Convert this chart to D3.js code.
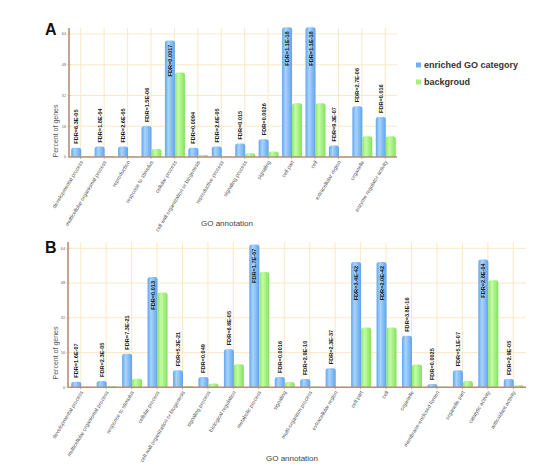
<!DOCTYPE html>
<html><head><meta charset="utf-8">
<script src="https://cdn.jsdelivr.net/npm/d3@7"></script>
<style>body{margin:0;background:#fff}svg{display:block}</style>
</head><body>
<svg id="c" width="554" height="471"></svg>
<script>
const catsA = ["developmental process","multicellular organismal process","reproduction","response to stimulus","cellular process","cell wall organization or biogenesis","reproductive process","signaling process","signaling","cell part","cell","extracellular region","organelle","enzyme regulator activity"];
const enrichedA = [4.8,5.4,5.4,16.1,60.6,4.8,5.4,7,9.3,67.5,67.5,6,26.4,20.8];
const backgroundA = [0.3,0.5,0.3,4.2,44,1,0.3,2,2.8,28,28,0.3,10.8,10.8];
const fdrA = ["6.3E-05","1.8E-04","2.6E-05","1.5E-06","0.0017","0.0094","2.6E-05","0.015","0.0026","1.1E-18","1.1E-18","9.3E-07","2.7E-06","0.016"];

const catsB = ["developmental process","multicellular organismal process","response to stimulus","cellular process","cell wall organization or biogenesis","signaling process","biological regulation","metabolic process","signaling","multi-organism process","extracellular region","cell part","cell","organelle","membrane-enclosed lumen","organelle part","catalytic activity","antioxidant activity"];
const enrichedB = [2.6,2.9,15.5,50.8,7.9,4.8,17.5,65.7,4.8,3.8,8.8,57.7,57.7,23.7,1.5,7.8,58.9,3.8];
const backgroundB = [0.3,0.6,3.9,43.7,0.6,1.8,10.6,53.1,2.4,0.3,0.2,27.5,27.5,10.5,0.2,2.9,49.3,0.9];
const fdrB = ["1.6E-07","2.3E-05","7.3E-21","0.013","5.3E-21","0.049","6.6E-05","1.7E-07","0.0016","2.0E-10","2.3E-37","3.4E-42","2.0E-42","3.8E-16","0.0025","5.1E-07","2.8E-04","2.9E-05"];

const yTicks = [0,16,32,48,64];
const seriesNames = ["enriched GO category","backgroud"];

const svg = d3.select("#c");
const defs = svg.append("defs");
function grad(id, stops){
  const g = defs.append("linearGradient").attr("id",id).attr("x1","0%").attr("x2","100%").attr("y1","0%").attr("y2","0%");
  stops.forEach(s=>g.append("stop").attr("offset",s[0]).attr("stop-color",s[1]));
}
grad("gBlue",[["0%","#5fa6ee"],["35%","#a9d3fb"],["60%","#8cc2f7"],["100%","#5fa3ea"]]);
grad("gGreen",[["0%","#8ee86a"],["35%","#c4fba8"],["60%","#a9f386"],["100%","#86e063"]]);

function topRounded(x,y,w,h,r){
  if(h<=0) return "";
  r=Math.min(r,h,w/2);
  return `M${x},${y+h}V${y+r}Q${x},${y} ${x+r},${y}H${x+w-r}Q${x+w},${y} ${x+w},${y+r}V${y+h}Z`;
}

function panel(cfg){
  const {cats, enr, bg, fdr, left, right, top, bottom, y64, letter, letterY, ylabY, goX, goY} = cfg;
  const g = svg.append("g");
  const x = d3.scaleBand().domain(cats).range([left,right]).padding(0);
  const y = d3.scaleLinear().domain([0,64]).range([bottom,y64]);
  const cx = c => x(c)+x.bandwidth()/2;
  g.selectAll(".hg").data(yTicks.filter(t=>t>0)).join("line")
    .attr("x1",left).attr("x2",right).attr("y1",d=>y(d)).attr("y2",d=>y(d))
    .attr("stroke","#fbe6bd").attr("stroke-width",0.9);
  g.selectAll(".vg").data(cats).join("line")
    .attr("x1",d=>cx(d)).attr("x2",d=>cx(d)).attr("y1",top).attr("y2",bottom)
    .attr("stroke","#fbe6bd").attr("stroke-width",0.9);
  const bw = 10;
  g.selectAll(".bb").data(cats).join("path")
    .attr("d",(d,i)=>topRounded(cx(d)-9.5, y(enr[i]), bw, bottom-y(enr[i]), 2.5))
    .attr("fill","url(#gBlue)");
  g.selectAll(".gb").data(cats).join("path")
    .attr("d",(d,i)=>topRounded(cx(d)+0.5, y(bg[i]), bw, bottom-y(bg[i]), 2.5))
    .attr("fill","url(#gGreen)");
  g.selectAll(".fl").data(cats).join("text")
    .each(function(d,i){
      const inside = enr[i] > 40;
      const bx = cx(d)-4.5;
      const by = inside ? y(enr[i])+4 : y(enr[i])-4;
      d3.select(this)
        .attr("transform",`translate(${bx},${by}) rotate(-90)`)
        .attr("text-anchor", inside ? "end" : "start")
        .attr("dy","0.36em")
        .text("FDR="+fdr[i]);
    })
    .attr("font-family","Liberation Sans, Arial, sans-serif").attr("font-weight","bold")
    .attr("font-size",5.6).attr("fill","#1a1a1a");
  g.append("line").attr("x1",left).attr("x2",left).attr("y1",top).attr("y2",bottom)
    .attr("stroke","#b88c79").attr("stroke-width",1.6);
  g.append("line").attr("x1",left).attr("x2",right).attr("y1",bottom).attr("y2",bottom)
    .attr("stroke","#b88c79").attr("stroke-width",1.4);
  g.selectAll(".xt").data(cats).join("line")
    .attr("x1",d=>cx(d)).attr("x2",d=>cx(d)).attr("y1",bottom).attr("y2",bottom+2)
    .attr("stroke","#b88c79").attr("stroke-width",0.7);
  g.selectAll(".yt").data(yTicks).join("line")
    .attr("x1",left-1.5).attr("x2",left+1.5).attr("y1",d=>y(d)).attr("y2",d=>y(d))
    .attr("stroke","#e39a4d").attr("stroke-width",0.8);
  g.selectAll(".ytl").data(yTicks).join("text")
    .attr("x",left-3).attr("y",d=>y(d)).attr("dy","0.35em").attr("text-anchor","end")
    .attr("font-family","Liberation Sans, Arial, sans-serif").attr("font-size",3.8).attr("fill","#666")
    .text(d=>d);
  g.selectAll(".xl").data(cats).join("text")
    .attr("transform",d=>`translate(${cx(d)+1},${bottom+4}) rotate(-59)`)
    .attr("text-anchor","end").attr("dy","0.35em")
    .attr("font-family","Liberation Sans, Arial, sans-serif").attr("font-size",5.3).attr("fill","#555")
    .text(d=>d);
  g.append("text").attr("x",45).attr("y",letterY).text(letter)
    .attr("font-family","Liberation Sans, Arial, sans-serif").attr("font-weight","bold").attr("font-size",16).attr("fill","#111");
  g.append("text").attr("transform",`translate(58,${ylabY}) rotate(-90)`).attr("text-anchor","middle")
    .attr("font-family","Liberation Sans, Arial, sans-serif").attr("font-size",7).attr("fill","#555")
    .text("Percent of genes");
  g.append("text").attr("x",goX).attr("y",goY).attr("text-anchor","middle")
    .attr("font-family","Liberation Sans, Arial, sans-serif").attr("font-size",8).attr("fill","#444")
    .text("GO annotation");
}

panel({cats:catsA, enr:enrichedA, bg:backgroundA, fdr:fdrA, left:69, right:397, top:28, bottom:157, y64:34,
  letter:"A", letterY:35, ylabY:131, goX:227, goY:226});
panel({cats:catsB, enr:enrichedB, bg:backgroundB, fdr:fdrB, left:68, right:526, top:242, bottom:387.3, y64:248.3,
  letter:"B", letterY:253, ylabY:353, goX:292, goY:461});

const lg = svg.append("g");
const lcol = ["#6fb2f3","#a6f07f"];
lg.selectAll("rect").data(seriesNames).join("rect")
  .attr("x",416).attr("y",(d,i)=>62.5+i*17).attr("width",5).attr("height",5).attr("fill",(d,i)=>lcol[i]);
lg.selectAll("text").data(seriesNames).join("text")
  .attr("x",424).attr("y",(d,i)=>68.3+i*17)
  .attr("font-family","Liberation Sans, Arial, sans-serif").attr("font-weight","bold").attr("font-size",9).attr("fill","#333")
  .text(d=>d);
</script>
</body></html>
